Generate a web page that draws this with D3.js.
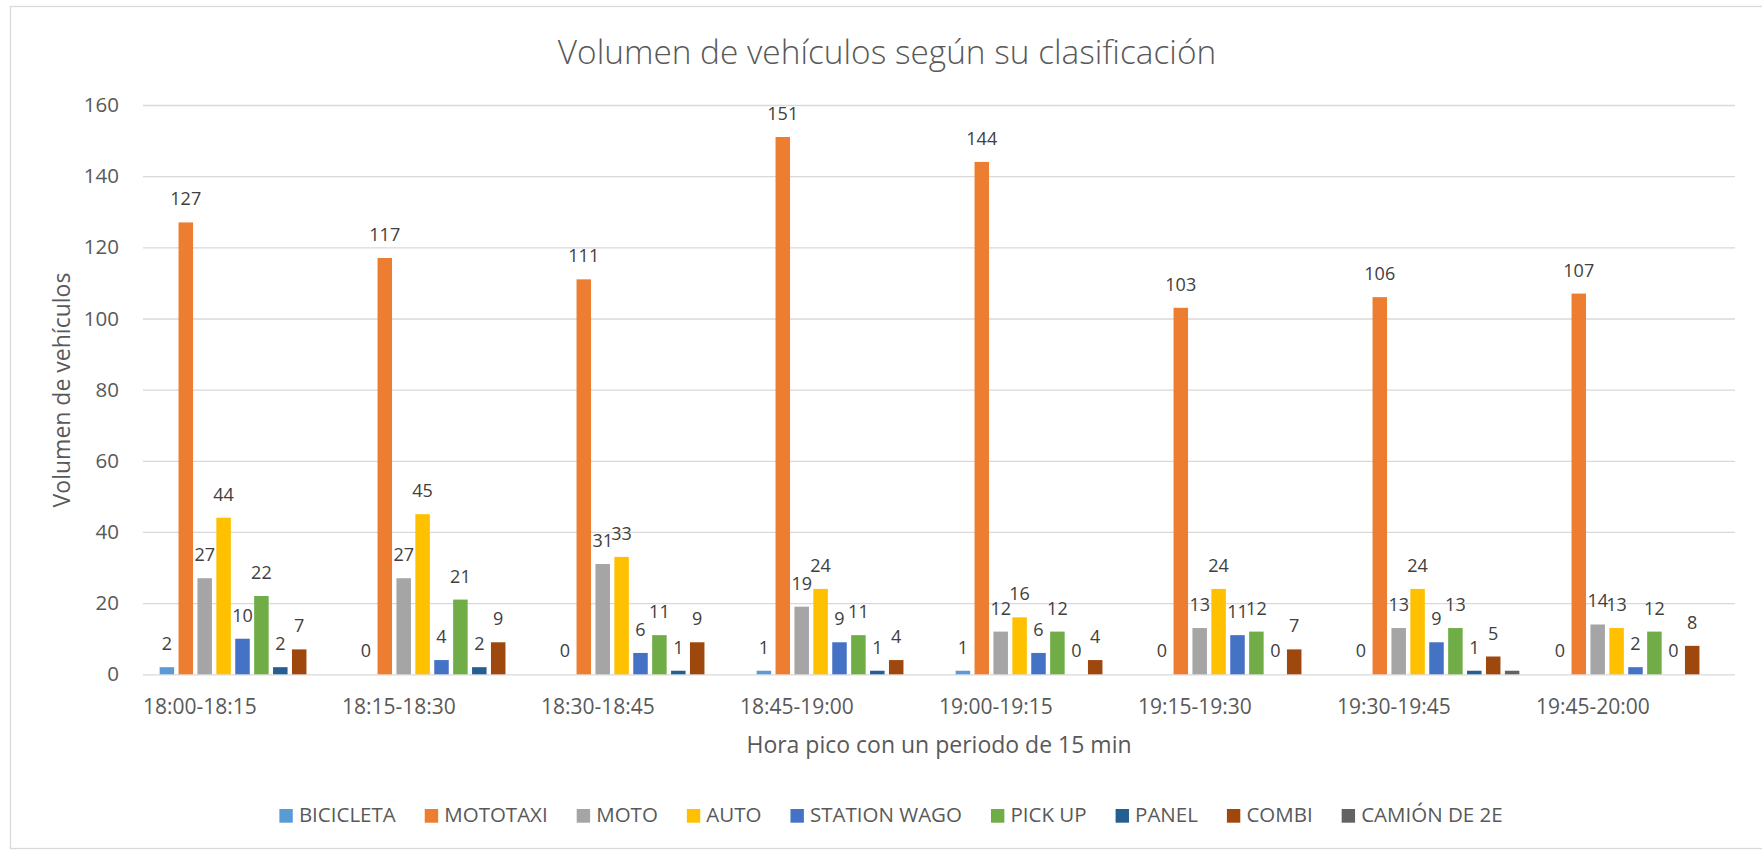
<!DOCTYPE html>
<html>
<head>
    <meta charset="utf-8">
    <title>Volumen de vehículos según su clasificación</title>
    <script src="https://cdn.jsdelivr.net/npm/d3@7"></script>
    <style>
        body {
            margin: 0;
            overflow: hidden;
            background: #fff;
            font-family: "Open Sans", Lato, sans-serif;
        }
        svg { display: block; }
    </style>
</head>
<body>
<div id="chart"></div>
<script>
    // values
    var periods = ["18:00-18:15", "18:15-18:30", "18:30-18:45", "18:45-19:00",
                   "19:00-19:15", "19:15-19:30", "19:30-19:45", "19:45-20:00"];

    var bicicleta = [2, 0, 0, 1, 1, 0, 0, 0];
    var mototaxi  = [127, 117, 111, 151, 144, 103, 106, 107];
    var moto      = [27, 27, 31, 19, 12, 13, 13, 14];
    var auto      = [44, 45, 33, 24, 16, 24, 24, 13];
    var station   = [10, 4, 6, 9, 6, 11, 9, 2];
    var pickup    = [22, 21, 11, 11, 12, 12, 13, 12];
    var panel     = [2, 2, 1, 1, 0, 0, 1, 0];
    var combi     = [7, 9, 9, 4, 4, 7, 5, 8];
    var camion    = [0, 0, 0, 0, 0, 0, 1, 0];

    var seriesNames  = ["BICICLETA", "MOTOTAXI", "MOTO", "AUTO", "STATION WAGO",
                        "PICK UP", "PANEL", "COMBI", "CAMIÓN DE 2E"];
    var seriesColors = ["#5b9bd5", "#ed7d31", "#a5a5a5", "#ffc000", "#4472c4",
                        "#70ad47", "#255e91", "#9e480e", "#636363"];
    var yTicks = [0, 20, 40, 60, 80, 100, 120, 140, 160];

    // camión has no data labels in the original
    var series = [
        {name: seriesNames[0], color: seriesColors[0], values: bicicleta, label: true},
        {name: seriesNames[1], color: seriesColors[1], values: mototaxi, label: true},
        {name: seriesNames[2], color: seriesColors[2], values: moto, label: true},
        {name: seriesNames[3], color: seriesColors[3], values: auto, label: true},
        {name: seriesNames[4], color: seriesColors[4], values: station, label: true},
        {name: seriesNames[5], color: seriesColors[5], values: pickup, label: true},
        {name: seriesNames[6], color: seriesColors[6], values: panel, label: true},
        {name: seriesNames[7], color: seriesColors[7], values: combi, label: true},
        {name: seriesNames[8], color: seriesColors[8], values: camion, label: false}
    ];

    var W = 1762, H = 851;
    var plot = {left: 143, right: 1735, top: 105, bottom: 674.3};

    var svg = d3.select("#chart")
        .append("svg")
        .attr("width", W)
        .attr("height", H);

    // chart area border (right edge is cut off in the original)
    svg.append("rect")
        .attr("x", 10.5).attr("y", 6.5)
        .attr("width", 1760).attr("height", 842)
        .attr("fill", "none")
        .attr("stroke", "#d9d9d9")
        .attr("stroke-width", 1.3);

    var x0 = d3.scaleBand()
        .domain(periods)
        .range([plot.left, plot.right]);

    var x1 = d3.scaleBand()
        .domain(d3.range(series.length))
        .range([0, x0.bandwidth()])
        .paddingInner(0.233)
        .paddingOuter(0.88);

    var y = d3.scaleLinear()
        .domain([0, 160])
        .range([plot.bottom, plot.top]);

    // gridlines + y tick labels
    var yAxis = svg.append("g")
        .attr("transform", "translate(" + plot.left + ",0)")
        .call(d3.axisLeft(y).tickValues(yTicks).tickSize(-(plot.right - plot.left)).tickPadding(24));
    yAxis.select(".domain").remove();
    yAxis.selectAll(".tick line")
        .attr("stroke", "#d9d9d9")
        .attr("stroke-width", 1.3);
    yAxis.selectAll(".tick text")
        .attr("fill", "#595959")
        .style("font-family", "'Open Sans', sans-serif")
        .style("font-size", "20.5px");

    // category labels (they sit left of centre in the original)
    var xAxis = svg.append("g")
        .attr("transform", "translate(0," + plot.bottom + ")")
        .call(d3.axisBottom(x0).tickSize(0).tickPadding(0));
    xAxis.select(".domain").remove();
    xAxis.selectAll(".tick text")
        .attr("text-anchor", "start")
        .attr("x", -x0.bandwidth() / 2)
        .attr("dy", null)
        .attr("y", 40)
        .attr("fill", "#595959")
        .style("font-family", "'Open Sans', sans-serif")
        .style("font-size", "21px");

    // bars
    var groups = svg.append("g")
        .selectAll("g")
        .data(series)
        .enter()
        .append("g")
        .attr("fill", function (s) { return s.color; });

    groups.selectAll("rect")
        .data(function (s, i) {
            return s.values.map(function (v, j) { return {k: i, period: periods[j], value: v}; });
        })
        .enter()
        .append("rect")
        .attr("x", function (d) { return x0(d.period) + x1(d.k); })
        .attr("y", function (d) { return y(d.value); })
        .attr("width", x1.bandwidth())
        .attr("height", function (d) { return y(0) - y(d.value); });

    // data labels
    groups.filter(function (s) { return s.label; })
        .selectAll("text")
        .data(function (s) {
            return s.values.map(function (v, j) { return {k: series.indexOf(s), period: periods[j], value: v}; });
        })
        .enter()
        .append("text")
        .attr("x", function (d) { return x0(d.period) + x1(d.k) + x1.bandwidth() / 2; })
        .attr("y", function (d) { return y(d.value) - 17; })
        .attr("text-anchor", "middle")
        .attr("fill", "#404040")
        .style("font-size", "18px")
        .text(function (d) { return d.value; });

    // title
    svg.append("text")
        .attr("x", 887)
        .attr("y", 64)
        .attr("text-anchor", "middle")
        .attr("fill", "#595959")
        .style("font-size", "33.4px")
        .style("font-weight", 300)
        .text("Volumen de vehículos según su clasificación");

    // axis titles
    svg.append("text")
        .attr("transform", "translate(70,390) rotate(-90)")
        .attr("text-anchor", "middle")
        .attr("fill", "#595959")
        .style("font-size", "23px")
        .text("Volumen de vehículos");

    svg.append("text")
        .attr("x", (plot.left + plot.right) / 2)
        .attr("y", 753)
        .attr("text-anchor", "middle")
        .attr("fill", "#595959")
        .style("font-size", "23px")
        .text("Hora pico con un periodo de 15 min");

    // legend, laid out left to right and centred
    var legend = svg.append("g");
    var items = legend.selectAll("g")
        .data(series)
        .enter()
        .append("g");
    items.append("rect")
        .attr("y", 809)
        .attr("width", 13.4)
        .attr("height", 13.7)
        .attr("fill", function (s) { return s.color; });
    items.append("text")
        .attr("x", 19.5)
        .attr("y", 822)
        .attr("fill", "#595959")
        .style("font-size", "20.5px")
        .text(function (s) { return s.name; });

    var cursor = 0;
    items.each(function () {
        var g = d3.select(this);
        g.attr("transform", "translate(" + cursor + ",0)");
        cursor += 19.5 + g.select("text").node().getComputedTextLength() + 29;
    });
    var legendWidth = cursor - 29;
    legend.attr("transform", "translate(" + (891 - legendWidth / 2) + ",0)");
</script>
</body>
</html>
